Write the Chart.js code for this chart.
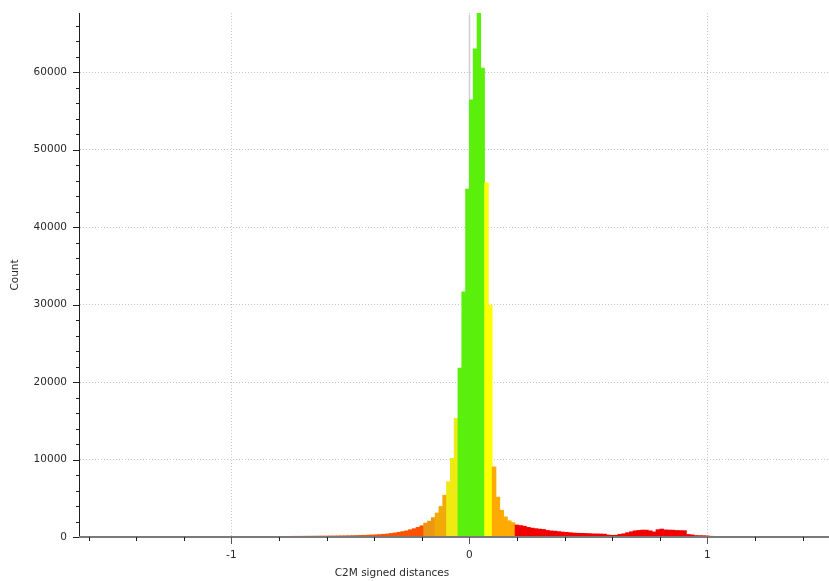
<!DOCTYPE html>
<html>
<head>
<meta charset="utf-8">
<script src="https://cdn.jsdelivr.net/npm/chart.js@4.4.1/dist/chart.umd.min.js"></script>
<style>
  html, body { margin: 0; padding: 0; background: #ffffff; }
  canvas { display: block; }
</style>
</head>
<body>
<canvas id="c" width="829" height="581"></canvas>
<script>
// ---------------- data ----------------
const binStart = -1.632;   // left edge of first class
const binWidth = 0.016;    // class width

// k = -102 .. -40
const farLeftCounts = [4,5,5,6,6,7,8,8,9,10, 11,11,12,13,14,16,17,18,20,21,
  23,24,26,28,29,31,33,34,36,38, 39,41,42,44,45,46,48,49,
  50,52,54,56,58,60,62,65,67,70, 72,75,78,81,84,87,90,94,97,100, 104,108,112,117,121];
// k = -39 .. -13
const leftTailCounts = [126,131,137,143,150,158,165,175,185,195, 210,225,245,265,290,320,360,400,460,530,
  610,700,800,940,1080,1250,1450];
// k = -12 .. -4
const leftShoulderCounts = [1800,2050,2500,3100,3950,5400,7150,10150,15300];
// k = -3 .. 5
const peakCounts = [21800,31650,44900,56400,63000,67600,60500,45700,29900];
// k = 6 .. 11
const rightShoulderCounts = [9050,5150,3450,2600,2100,1850];
// k = 12 .. 66
const rightTailCounts = [1550,1480,1400,1250,1150,1080,1020,980,850,790,
  760,700,640,610,560,510,490,480,460,440,
  410,400,390,370,260,220,230,350,420,560,
  680,800,850,900,890,800,660,950,1030,920,
  900,880,840,830,820,330,280,190,180,170,
  140,100,90,80,60];
// k = 67 .. 93
const farRightCounts = [50,40,30,22,15,10,8,6,5,4, 4,3,3,3,2,2,2,2,1,1, 1,1,1,1,1,0,0];

const xLabelTicks = [-1, 0, 1];
const yLabelTicks = [0, 10000, 20000, 30000, 40000, 50000, 60000];
const xMinorStep = 0.2;
const yMinorStep = 2000;
const xMin = -1.64, xMax = 1.511;
const yMin = 0, yMax = 67620;
const zeroMarkerTop = 67400;

const xTitle = 'C2M signed distances';
const yTitle = 'Count';

// ---------------- styling ----------------
const colorBands = [
  [-0.192, '#ff5200'],
  [-0.144, '#ec9612'],
  [-0.096, '#f2aa08'],
  [-0.048, '#eeea12'],
  [0.064, '#5bf00c'],
  [0.096, '#ffff00'],
  [0.192, '#ffaa00'],
  [Infinity, '#f20000']
];
const FONT = { family: "'DejaVu Sans', Verdana, sans-serif", size: 10.5 };
const TEXT = '#2a2a2a';

const counts = [].concat(farLeftCounts, leftTailCounts, leftShoulderCounts, peakCounts,
  rightShoulderCounts, rightTailCounts, farRightCounts);
const points = counts.map((c, i) => ({ x: binStart + (i + 0.5) * binWidth, y: c }));
const colors = points.map(p => colorBands.find(b => p.x < b[0])[1]);

function stepValues(lo, hi, step) {
  const out = [];
  for (let v = Math.ceil(lo / step - 1e-9); v * step <= hi + 1e-9; v++) out.push(Math.round(v * step * 1000) / 1000);
  return out;
}
const xTicks = stepValues(xMin, xMax, xMinorStep);
const yTicks = stepValues(yMin, yMax, yMinorStep);
const isXMajor = v => xLabelTicks.some(t => Math.abs(t - v) < 1e-6);
const isYMajor = v => yLabelTicks.includes(v);

const decor = {
  id: 'decor',
  beforeDatasetsDraw(chart) {
    const { ctx, scales: { x, y }, chartArea } = chart;
    const px = Math.round(x.getPixelForValue(0)) + 0.5;
    ctx.save();
    ctx.strokeStyle = '#d0d0d0';
    ctx.lineWidth = 1.5;
    ctx.beginPath();
    ctx.moveTo(px, y.getPixelForValue(zeroMarkerTop));
    ctx.lineTo(px, chartArea.bottom);
    ctx.stroke();
    ctx.restore();
  },
  afterDraw(chart) {
    const { ctx, scales: { x, y }, chartArea } = chart;
    ctx.save();
    // x axis line (on top of the bars)
    ctx.strokeStyle = '#7a7a7a';
    ctx.lineWidth = 2;
    ctx.beginPath();
    ctx.moveTo(chartArea.left, chartArea.bottom);
    ctx.lineTo(chartArea.right, chartArea.bottom);
    ctx.stroke();
    ctx.lineWidth = 1;
    // y ticks
    ctx.strokeStyle = '#1e1e1e';
    yTicks.forEach(v => {
      const py = Math.round(y.getPixelForValue(v)) + 0.5;
      const len = isYMajor(v) ? 6 : 3;
      ctx.beginPath();
      ctx.moveTo(chartArea.left - len, py);
      ctx.lineTo(chartArea.left, py);
      ctx.stroke();
    });
    // x ticks
    xTicks.forEach(v => {
      const px = Math.round(x.getPixelForValue(v)) + 0.5;
      const major = isXMajor(v);
      ctx.strokeStyle = major ? '#555555' : '#1e1e1e';
      const len = major ? 7 : 4;
      ctx.beginPath();
      ctx.moveTo(px, chartArea.bottom);
      ctx.lineTo(px, chartArea.bottom + len);
      ctx.stroke();
    });
    // titles
    ctx.fillStyle = TEXT;
    ctx.font = FONT.size + 'px ' + FONT.family;
    ctx.textAlign = 'center';
    ctx.textBaseline = 'middle';
    ctx.fillText(xTitle, 392, 573);
    ctx.translate(15, 275);
    ctx.rotate(-Math.PI / 2);
    ctx.fillText(yTitle, 0, 0);
    ctx.restore();
  }
};

Chart.defaults.font.family = FONT.family;
Chart.defaults.font.size = FONT.size;
Chart.defaults.color = TEXT;

new Chart(document.getElementById('c'), {
  type: 'bar',
  data: {
    datasets: [{
      data: points,
      backgroundColor: colors,
      borderWidth: 0,
      barPercentage: 1,
      categoryPercentage: 1,
      grouped: false
    }]
  },
  options: {
    responsive: false,
    animation: false,
    events: [],
    layout: { padding: { top: 13, right: 0, left: 0, bottom: 0 } },
    plugins: { legend: { display: false }, tooltip: { enabled: false }, title: { display: false } },
    scales: {
      x: {
        type: 'linear',
        min: xMin, max: xMax,
        offset: false,
        afterFit(s) { s.height = 44; },
        afterBuildTicks(s) { s.ticks = xTicks.map(v => ({ value: v })); },
        ticks: {
          autoSkip: false, maxRotation: 0, padding: 5, color: TEXT, font: FONT,
          callback: v => (isXMajor(v) ? String(Math.round(v)) : '')
        },
        grid: {
          offset: false,
          color: c => (c.tick && isXMajor(c.tick.value)) ? '#c4c4c4' : 'rgba(0,0,0,0)',
          lineWidth: 1,
          tickLength: 7,
          tickColor: 'rgba(0,0,0,0)'
        },
        border: { display: false, dash: [1, 2] }
      },
      y: {
        type: 'linear',
        min: yMin, max: yMax,
        afterFit(s) { s.width = 79; },
        afterBuildTicks(s) { s.ticks = yTicks.map(v => ({ value: v })); },
        ticks: {
          autoSkip: false, padding: 6, color: TEXT, font: FONT,
          callback: v => (isYMajor(v) ? String(v) : '')
        },
        grid: {
          color: c => (c.tick && isYMajor(c.tick.value) && c.tick.value !== 0) ? '#c4c4c4' : 'rgba(0,0,0,0)',
          lineWidth: 1,
          tickLength: 6,
          tickColor: 'rgba(0,0,0,0)'
        },
        border: { display: true, color: '#1e1e1e', width: 1, dash: [1, 2] }
      }
    }
  },
  plugins: [decor]
});
</script>
</body>
</html>
